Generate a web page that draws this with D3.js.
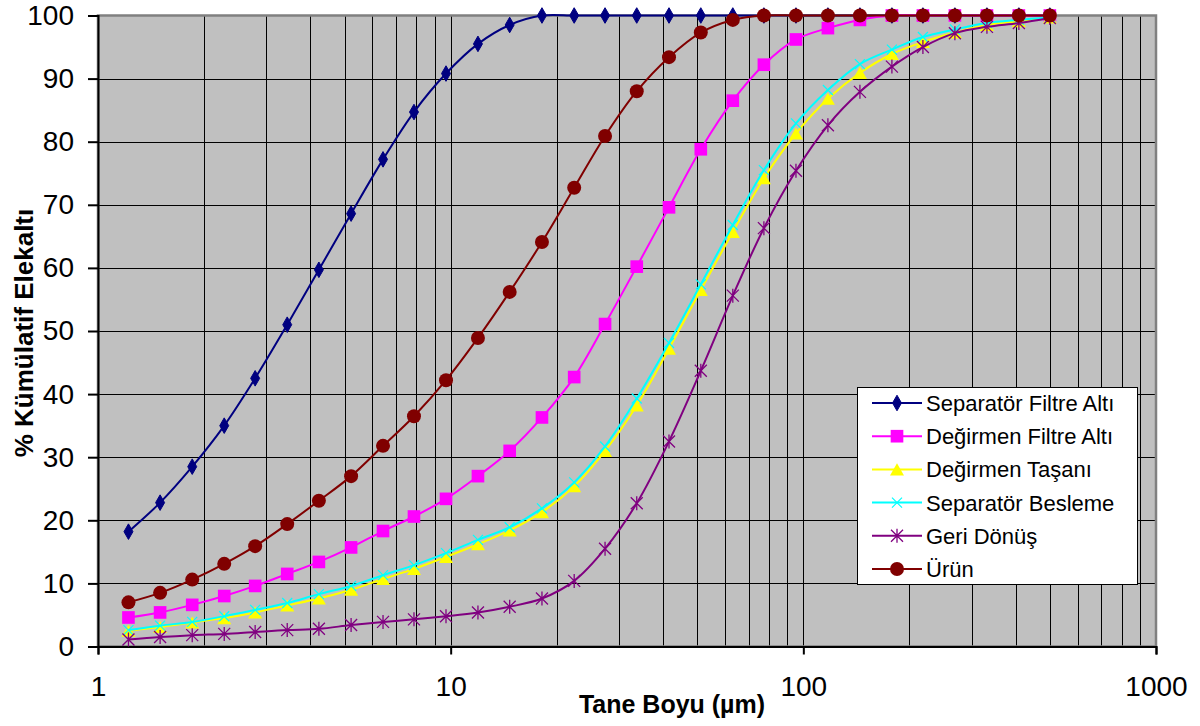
<!DOCTYPE html>
<html>
<head>
<meta charset="utf-8">
<script src="https://cdn.jsdelivr.net/npm/d3@7"></script>
<style>
  html, body { margin: 0; padding: 0; background: #fff; }
  svg { display: block; font-family: "Liberation Sans", Arial, sans-serif; }
</style>
</head>
<body>
<svg id="chart" width="1200" height="726"></svg>
<script>
// Particle size classes (µm)
const sizes = [1.22, 1.5, 1.85, 2.28, 2.79, 3.44, 4.23, 5.22, 6.43, 7.87,
               9.7, 11.95, 14.7, 18.15, 22.4, 27.4, 33.7, 41.6, 51.2, 63.1,
               77.3, 95.3, 117.4, 144.7, 178.3, 218.3, 269, 331.6, 408.5, 500];

// Cumulative passing (%) per stream
const separatorFiltreAlti = [18.2, 22.8, 28.5, 35.0, 42.5, 51.0, 59.7, 68.6, 77.2, 84.7,
                             90.8, 95.5, 98.5, 100, 100, 100, 100, 100, 100, 100,
                             100, 100, 100, 100, 100, 100, 100, 100, 100, 100];
const degirmenFiltreAlti = [4.6, 5.4, 6.6, 8.0, 9.6, 11.5, 13.4, 15.7, 18.3, 20.6,
                            23.4, 27.0, 31.0, 36.3, 42.7, 51.1, 60.2, 69.6, 78.8, 86.5,
                            92.2, 96.2, 98.0, 99.3, 100, 100, 100, 100, 100, 100];
const degirmenTasani = [2.5, 3.1, 3.8, 4.5, 5.4, 6.5, 7.6, 9.0, 10.7, 12.3,
                        14.2, 16.2, 18.4, 21.3, 25.4, 31.0, 38.2, 47.2, 56.5, 65.7,
                        74.2, 81.3, 86.8, 90.9, 93.9, 95.8, 97.3, 98.5, 99.1, 99.7];
const separatorBesleme = [2.6, 3.3, 3.9, 4.8, 5.8, 6.9, 8.3, 9.6, 11.3, 12.9,
                          14.8, 16.9, 18.9, 21.9, 26.0, 31.7, 39.3, 48.1, 57.4, 66.8,
                          75.5, 82.9, 88.2, 92.3, 94.6, 96.6, 97.8, 98.8, 99.3, 99.7];
const geriDonus = [1.1, 1.5, 1.8, 2.0, 2.3, 2.6, 2.8, 3.4, 3.9, 4.3,
                   4.8, 5.4, 6.3, 7.6, 10.4, 15.5, 22.7, 32.5, 43.7, 55.6,
                   66.3, 75.4, 82.6, 87.9, 91.9, 95.0, 97.2, 98.2, 98.8, 99.6];
const urun = [7.0, 8.5, 10.6, 13.1, 15.9, 19.4, 23.1, 27.0, 31.8, 36.5,
              42.2, 48.9, 56.2, 64.1, 72.7, 80.9, 88.0, 93.4, 97.3, 99.3,
              100, 100, 100, 100, 100, 100, 100, 100, 100, 100];

const seriesNames = ["Separatör Filtre Altı", "Değirmen Filtre Altı", "Değirmen Taşanı",
                     "Separatör Besleme", "Geri Dönüş", "Ürün"];
const xTickValues = [1, 10, 100, 1000];
const yTickValues = [0, 10, 20, 30, 40, 50, 60, 70, 80, 90, 100];
const xTitle = "Tane Boyu (µm)";
const yTitle = "% Kümülatif Elekaltı";

const series = [
  { name: seriesNames[0], values: separatorFiltreAlti, color: "#000080", marker: "diamond" },
  { name: seriesNames[1], values: degirmenFiltreAlti, color: "#FF00FF", marker: "square" },
  { name: seriesNames[2], values: degirmenTasani, color: "#FFFF00", marker: "triangle" },
  { name: seriesNames[3], values: separatorBesleme, color: "#00FFFF", marker: "x" },
  { name: seriesNames[4], values: geriDonus, color: "#800080", marker: "star" },
  { name: seriesNames[5], values: urun, color: "#800000", marker: "circle" }
];

const svg = d3.select("#chart");
const plot = { left: 98, right: 1156, top: 15.5, bottom: 646.5 };

const x = d3.scaleLog().domain([1, 1000]).range([plot.left, plot.right]);
const y = d3.scaleLinear().domain([0, 100]).range([plot.bottom, plot.top]);

// Plot area background
svg.append("rect")
  .attr("x", plot.left).attr("y", plot.top)
  .attr("width", plot.right - plot.left).attr("height", plot.bottom - plot.top)
  .attr("fill", "#C0C0C0");

// Gridlines: every log step vertically, every 10 % horizontally
const grid = svg.append("g").attr("shape-rendering", "crispEdges");
const vGrid = [];
[1, 10, 100].forEach(d => { for (let k = 2; k <= 10; k++) vGrid.push(d * k); });
grid.selectAll("line.v").data(vGrid.filter(v => v < 1000)).join("line")
  .attr("x1", d => Math.round(x(d)) + 0.5).attr("x2", d => Math.round(x(d)) + 0.5)
  .attr("y1", plot.top).attr("y2", plot.bottom)
  .attr("stroke", "#000").attr("stroke-width", 1);
grid.selectAll("line.h").data(yTickValues.slice(1, -1)).join("line")
  .attr("y1", d => Math.round(y(d)) + 0.5).attr("y2", d => Math.round(y(d)) + 0.5)
  .attr("x1", plot.left).attr("x2", plot.right)
  .attr("stroke", "#000").attr("stroke-width", 1);

// Plot area border
svg.append("rect")
  .attr("x", plot.left).attr("y", plot.top)
  .attr("width", plot.right - plot.left).attr("height", plot.bottom - plot.top)
  .attr("fill", "none").attr("stroke", "#808080").attr("stroke-width", 2.5);

// Axes
const xAxis = d3.axisBottom(x).tickValues(xTickValues).tickFormat(d3.format("d"))
  .tickSize(8).tickPadding(22);
const yAxis = d3.axisLeft(y).tickValues(yTickValues).tickSize(10).tickPadding(14);

const gx = svg.append("g").attr("transform", `translate(0,${plot.bottom})`).call(xAxis);
const gy = svg.append("g").attr("transform", `translate(${plot.left},0)`).call(yAxis);
[gx, gy].forEach(g => {
  g.select(".domain").attr("stroke", "#000").attr("stroke-width", 2);
  g.selectAll(".tick line").attr("stroke", "#000").attr("stroke-width", 2);
  g.selectAll(".tick text").attr("fill", "#000")
    .style("font-family", '"Liberation Sans", Arial, sans-serif').style("font-size", "28px");
});

// Axis titles
svg.append("text")
  .attr("x", 672).attr("y", 713)
  .attr("text-anchor", "middle")
  .style("font-weight", "bold").style("font-size", "25px")
  .text(xTitle);
svg.append("text")
  .attr("transform", "translate(33,333) rotate(-90)")
  .attr("text-anchor", "middle")
  .style("font-weight", "bold").style("font-size", "26px")
  .text(yTitle);

// Marker shapes
function drawMarker(sel, type, color) {
  if (type === "diamond") {
    sel.append("path").attr("d", d3.symbol(d3.symbolDiamond, 70)())
      .attr("fill", color).attr("stroke", color).attr("stroke-width", 1);
  } else if (type === "square") {
    sel.append("path").attr("d", d3.symbol(d3.symbolSquare, 160)())
      .attr("fill", color);
  } else if (type === "triangle") {
    sel.append("path").attr("d", d3.symbol(d3.symbolTriangle, 85)())
      .attr("fill", color).attr("transform", "translate(0,2)");
  } else if (type === "x") {
    sel.append("path").attr("d", "M-5,-5L5,5M-5,5L5,-5")
      .attr("stroke", color).attr("stroke-width", 1.2).attr("fill", "none");
  } else if (type === "star") {
    sel.append("path").attr("d", "M-6,-6L6,6M-6,6L6,-6M0,-7L0,7")
      .attr("stroke", color).attr("stroke-width", 1.3).attr("fill", "none");
  } else if (type === "circle") {
    sel.append("circle").attr("r", 7).attr("fill", color);
  }
}

// Series lines and markers
const line = d3.line()
  .x(d => x(d[0]))
  .y(d => y(d[1]))
  .curve(d3.curveCatmullRom.alpha(0.5));

const clip = svg.append("defs").append("clipPath").attr("id", "plotclip")
  .append("rect").attr("x", plot.left - 10).attr("y", 0)
  .attr("width", plot.right - plot.left + 20).attr("height", plot.bottom + 10);

series.forEach(s => {
  const pts = sizes.map((v, i) => [v, s.values[i]]);
  const g = svg.append("g");
  g.append("path").datum(pts)
    .attr("d", line)
    .attr("fill", "none")
    .attr("stroke", s.color)
    .attr("stroke-width", 2);
  g.selectAll("g.m").data(pts).join("g")
    .attr("transform", d => `translate(${x(d[0])},${y(d[1])})`)
    .each(function () { drawMarker(d3.select(this), s.marker, s.color); });
});

// Legend
const legend = svg.append("g");
legend.append("rect")
  .attr("x", 857.5).attr("y", 387.5).attr("width", 280).attr("height", 197)
  .attr("fill", "#fff").attr("stroke", "#000").attr("stroke-width", 1);
const rowY = d3.scalePoint().domain(seriesNames).range([403, 569]);
series.forEach(s => {
  const g = legend.append("g").attr("transform", `translate(0,${rowY(s.name)})`);
  g.append("line").attr("x1", 872).attr("x2", 922).attr("y1", 0).attr("y2", 0)
    .attr("stroke", s.color).attr("stroke-width", 2);
  const m = g.append("g").attr("transform", "translate(897,0)");
  drawMarker(m, s.marker, s.color);
  g.append("text").attr("x", 926).attr("y", 8)
    .style("font-size", "22px").attr("fill", "#000")
    .text(s.name);
});
</script>
</body>
</html>
